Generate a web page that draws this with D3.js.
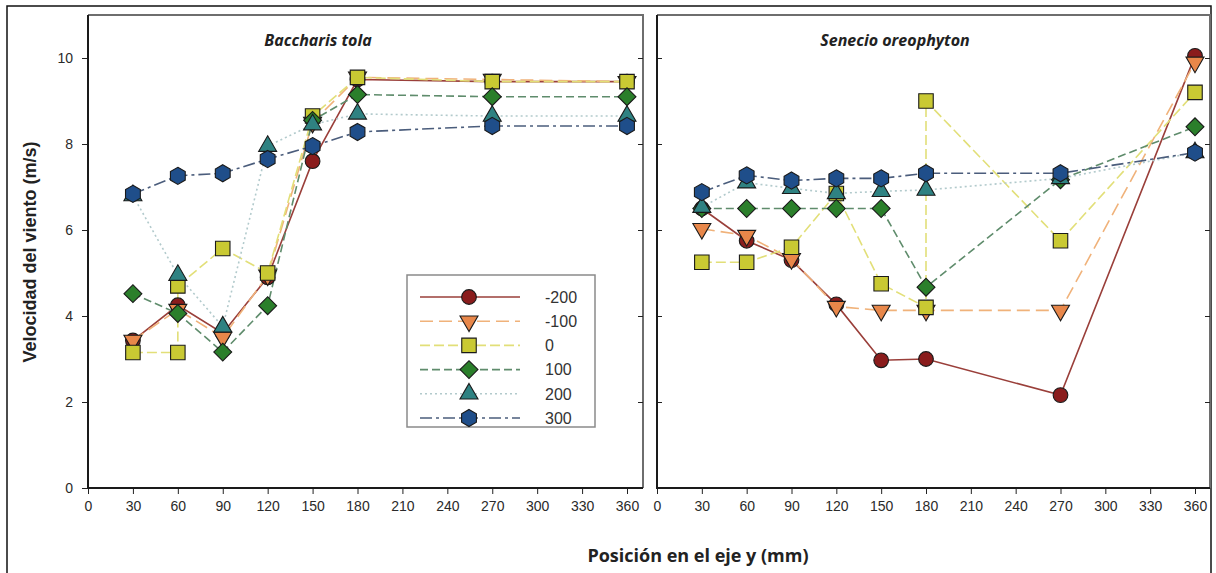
<!DOCTYPE html>
<html>
<head>
  <meta charset="utf-8">
  <style>
    body { margin:0; background:#fff; }
    .tick text { font-family:"Liberation Sans", Arial, sans-serif; font-size:14px; fill:#2a2a2a; }
    .tick line { stroke:#222; }
    .domain { display:none; }
  </style>
  <script src="https://d3js.org/d3.v7.min.js"></script>
</head>
<body>
<div class="chart"></div>
<script>
// positions (mm) on the y axis of the plant
const positions = [30, 60, 90, 120, 150, 180, 270, 360];
const tolaPositions0 = [30, 60, 60, 90, 120, 150, 180, 270, 360];
const senecioPositions0 = [30, 60, 90, 120, 150, 180, 180, 270, 360];
const xTicks = [0, 30, 60, 90, 120, 150, 180, 210, 240, 270, 300, 330, 360];
const yTicks = [0, 2, 4, 6, 8, 10];
const seriesNames = ['-200', '-100', '0', '100', '200', '300'];

// Baccharis tola (m/s)
const tolaM200 = [3.43, 4.25, 3.6, 4.9, 7.6, 9.5, 9.45, 9.45];
const tolaM100 = [3.43, 4.15, 3.5, 4.95, 8.5, 9.55, 9.5, 9.45];
const tola0    = [3.15, 3.15, 4.7, 5.57, 5.0, 8.65, 9.55, 9.45, 9.45];
const tola100  = [4.52, 4.06, 3.16, 4.24, 8.55, 9.15, 9.1, 9.1];
const tola200  = [6.8, 4.95, 3.75, 7.95, 8.45, 8.7, 8.65, 8.65];
const tola300  = [6.84, 7.26, 7.32, 7.65, 7.95, 8.28, 8.42, 8.42];

// Senecio oreophyton (m/s)
const senecioM200 = [6.5, 5.75, 5.3, 4.27, 2.97, 3.0, 2.16, 10.05];
const senecioM100 = [6.03, 5.87, 5.33, 4.22, 4.13, 4.13, 4.13, 9.9];
const senecio0    = [5.25, 5.25, 5.6, 6.85, 4.75, 4.2, 9.0, 5.75, 9.2];
const senecio100  = [6.5, 6.5, 6.5, 6.5, 6.5, 4.67, 7.17, 8.4];
const senecio200  = [6.53, 7.1, 6.97, 6.85, 6.9, 6.93, 7.2, 7.8];
const senecio300  = [6.88, 7.27, 7.15, 7.2, 7.2, 7.32, 7.32, 7.8];

const width = 1216;
const height = 573;

const hexagon = {
  draw(ctx, size){
    const r = Math.sqrt(size / (3 * Math.sqrt(3) / 2));
    for(let i = 0; i < 6; i++){
      const a = -Math.PI / 2 + i * Math.PI / 3;
      if(i === 0) ctx.moveTo(r * Math.cos(a), r * Math.sin(a));
      else ctx.lineTo(r * Math.cos(a), r * Math.sin(a));
    }
    ctx.closePath();
  }
};

const styles = {
  '-200': {line:'#9a3f3a', dash:null, fill:'#8a1c1c', type:d3.symbolCircle, size:170, rotate:0},
  '-100': {line:'#f0b27a', dash:'13,6', fill:'#e8874a', type:d3.symbolTriangle, size:140, rotate:180},
  '0':    {line:'#e2df78', dash:'10,4,10,4', fill:'#c9c933', type:d3.symbolSquare, size:210, rotate:0},
  '100':  {line:'#5f8c6c', dash:'8,4', fill:'#2b7f2b', type:d3.symbolSquare, size:160, rotate:45},
  '200':  {line:'#b2cacc', dash:'2,3', fill:'#2f8282', type:d3.symbolTriangle, size:140, rotate:0},
  '300':  {line:'#4b5d7c', dash:'12,4,3,4', fill:'#1f4e8a', type:hexagon, size:190, rotate:0}
};

const panels = [
  {title:'Baccharis tola', titleX:318, left:88, right:643, x360:627, data:[
    {name:'-200', xs:positions, ys:tolaM200},
    {name:'-100', xs:positions, ys:tolaM100},
    {name:'0', xs:tolaPositions0, ys:tola0},
    {name:'100', xs:positions, ys:tola100},
    {name:'200', xs:positions, ys:tola200},
    {name:'300', xs:positions, ys:tola300}
  ]},
  {title:'Senecio oreophyton', titleX:895, left:657, right:1210, x360:1195, data:[
    {name:'-200', xs:positions, ys:senecioM200},
    {name:'-100', xs:positions, ys:senecioM100},
    {name:'0', xs:senecioPositions0, ys:senecio0},
    {name:'100', xs:positions, ys:senecio100},
    {name:'200', xs:positions, ys:senecio200},
    {name:'300', xs:positions, ys:senecio300}
  ]}
];

const svg = d3.select('.chart')
  .append('svg')
  .attr('width', width)
  .attr('height', height);

// outer frame
svg.append('rect')
  .attr('x', 7).attr('y', 6)
  .attr('width', 1204).attr('height', 600)
  .attr('fill', 'none')
  .attr('stroke', '#111')
  .attr('stroke-width', 1.5);

const y = d3.scaleLinear().domain([0, 11]).range([488, 15]);

function symbolPath(name){
  const s = styles[name];
  return d3.symbol().type(s.type).size(s.size)();
}

panels.forEach((panel, pi)=>{
  const x = d3.scaleLinear().domain([0, 360]).range([panel.left, panel.x360]);
  const g = svg.append('g');

  // top and right borders (grey)
  g.append('path')
    .attr('d', `M${panel.left},15H${panel.right}V488`)
    .attr('fill', 'none')
    .attr('stroke', '#6e6e6e')
    .attr('stroke-width', 2);

  // inner ticks on the right edge
  g.append('g')
    .attr('transform', `translate(${panel.right},0)`)
    .call(d3.axisLeft(y).tickValues(yTicks.slice(1)).tickSize(5).tickFormat(''));

  if(pi === 0){
    g.append('g')
      .attr('transform', `translate(${panel.left},0)`)
      .call(d3.axisLeft(y).tickValues(yTicks).tickSize(6).tickPadding(9));
  } else {
    g.append('g')
      .attr('transform', `translate(${panel.left},0)`)
      .call(d3.axisRight(y).tickValues(yTicks).tickSize(5).tickFormat(''));
  }

  g.append('g')
    .attr('transform', 'translate(0,488)')
    .call(d3.axisBottom(x).tickValues(xTicks).tickSize(6).tickPadding(7));

  // axis lines
  g.append('path')
    .attr('d', `M${panel.left},15V488H${panel.right}`)
    .attr('fill', 'none')
    .attr('stroke', '#1a1a1a')
    .attr('stroke-width', 2);

  g.append('text')
    .attr('x', panel.titleX)
    .attr('y', 46)
    .attr('text-anchor', 'middle')
    .style('font-family', '"Open Sans", sans-serif')
    .style('font-size', '16px')
    .style('font-weight', 'bold')
    .style('font-style', 'italic')
    .attr('fill', '#222')
    .text(panel.title);

  const line = d3.line()
    .x(d=>x(d[0]))
    .y(d=>y(d[1]));

  panel.data.forEach(series=>{
    const s = styles[series.name];
    const pts = series.xs.map((v, i)=>[v, series.ys[i]]);
    g.append('path')
      .attr('d', line(pts))
      .attr('fill', 'none')
      .attr('stroke', s.line)
      .attr('stroke-width', 1.6)
      .attr('stroke-dasharray', s.dash);
  });

  panel.data.forEach(series=>{
    const s = styles[series.name];
    const pts = series.xs.map((v, i)=>[v, series.ys[i]]);
    g.append('g')
      .selectAll('path')
      .data(pts)
      .join('path')
      .attr('transform', d=>`translate(${x(d[0])},${y(d[1])}) rotate(${s.rotate})`)
      .attr('d', symbolPath(series.name))
      .attr('fill', s.fill)
      .attr('stroke', '#1a1a1a')
      .attr('stroke-width', 1.1);
  });

  if(pi === 0){
    // legend
    const legend = g.append('g').attr('transform', 'translate(407,275)');
    legend.append('rect')
      .attr('width', 188).attr('height', 152)
      .attr('fill', '#fff')
      .attr('stroke', '#8a8a8a')
      .attr('stroke-width', 1.5);
    const rows = legend.selectAll('g.row')
      .data(seriesNames)
      .join('g')
      .attr('class', 'row')
      .attr('transform', (d, i)=>`translate(0,${22 + i * 24.2})`);
    rows.append('line')
      .attr('x1', 13).attr('x2', 113)
      .attr('stroke', d=>styles[d].line)
      .attr('stroke-width', 1.6)
      .attr('stroke-dasharray', d=>styles[d].dash);
    rows.append('path')
      .attr('transform', d=>`translate(62,0) rotate(${styles[d].rotate})`)
      .attr('d', d=>symbolPath(d))
      .attr('fill', d=>styles[d].fill)
      .attr('stroke', '#1a1a1a')
      .attr('stroke-width', 1.1);
    rows.append('text')
      .attr('x', 138)
      .attr('dy', '0.36em')
      .style('font-family', '"Liberation Sans", Arial, sans-serif')
      .style('font-size', '16px')
      .attr('fill', '#333')
      .text(d=>d);
  }
});

// axis titles
svg.append('text')
  .attr('transform', 'translate(36,252) rotate(-90)')
  .attr('text-anchor', 'middle')
  .style('font-family', '"Liberation Sans", Arial, sans-serif')
  .style('font-size', '18px')
  .style('font-weight', 'bold')
  .attr('fill', '#222')
  .text('Velocidad del viento (m/s)');

svg.append('text')
  .attr('x', 698)
  .attr('y', 562)
  .attr('text-anchor', 'middle')
  .style('font-family', '"Open Sans", sans-serif')
  .style('font-size', '18px')
  .style('font-weight', 'bold')
  .attr('fill', '#222')
  .text('Posición en el eje y (mm)');
</script>
</html>
